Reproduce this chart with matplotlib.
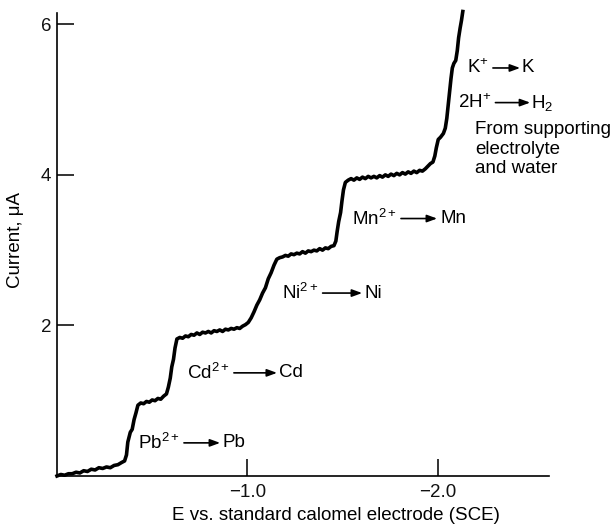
import matplotlib
matplotlib.use("Agg")
import matplotlib.pyplot as plt

plt.rcParams['font.family'] = ['Liberation Sans', 'DejaVu Sans']
plt.rcParams['mathtext.fontset'] = 'custom'
plt.rcParams['mathtext.rm'] = 'Liberation Sans'
plt.rcParams['mathtext.it'] = 'Liberation Sans:italic'

# polarogram: potential (V vs SCE) and current (uA)
potential = [
    0.000, -0.02, -0.04, -0.06, -0.08, -0.10, -0.12, -0.14, -0.16, -0.18,
    -0.20, -0.22, -0.24, -0.26, -0.28, -0.30, -0.32, -0.34, -0.355, -0.365,
    -0.372, -0.385, -0.395, -0.405, -0.415, -0.425, -0.44, -0.455, -0.47, -0.485,
    -0.50, -0.515, -0.53, -0.545, -0.56, -0.575, -0.585, -0.595, -0.603, -0.612,
    -0.62, -0.63, -0.645, -0.66, -0.675, -0.69, -0.705, -0.72, -0.735, -0.75,
    -0.765, -0.78, -0.795, -0.81, -0.825, -0.84, -0.855, -0.87, -0.885, -0.90,
    -0.915, -0.93, -0.945, -0.96, -0.975, -0.99, -1.005, -1.02, -1.035, -1.05,
    -1.065, -1.08, -1.095, -1.11, -1.125, -1.14, -1.155, -1.17, -1.185, -1.20,
    -1.215, -1.23, -1.245, -1.26, -1.275, -1.29, -1.305, -1.32, -1.335, -1.35,
    -1.365, -1.38, -1.395, -1.41, -1.425, -1.44, -1.455, -1.465, -1.472, -1.48,
    -1.49, -1.497, -1.505, -1.515, -1.53, -1.545, -1.56, -1.575, -1.59, -1.605,
    -1.62, -1.635, -1.65, -1.665, -1.68, -1.695, -1.71, -1.725, -1.74, -1.755,
    -1.77, -1.785, -1.80, -1.815, -1.83, -1.845, -1.86, -1.875, -1.89, -1.905,
    -1.92, -1.935, -1.95, -1.962, -1.975, -1.985, -1.993, -2.003, -2.015, -2.03,
    -2.04, -2.048, -2.055, -2.062, -2.07, -2.077, -2.085, -2.095, -2.103, -2.11,
    -2.118, -2.125, -2.132,
]
current = [
    0.00, 0.02, 0.01, 0.03, 0.03, 0.05, 0.04, 0.07, 0.06, 0.09,
    0.08, 0.11, 0.10, 0.12, 0.11, 0.14, 0.15, 0.18, 0.20, 0.28,
    0.45, 0.58, 0.62, 0.75, 0.84, 0.94, 0.97, 0.96, 0.99, 0.98,
    1.01, 1.00, 1.03, 1.02, 1.06, 1.09, 1.18, 1.30, 1.45, 1.55,
    1.70, 1.82, 1.84, 1.83, 1.86, 1.85, 1.88, 1.87, 1.90, 1.88,
    1.91, 1.90, 1.92, 1.90, 1.93, 1.92, 1.94, 1.92, 1.95, 1.94,
    1.96, 1.95, 1.97, 1.96, 1.99, 2.01, 2.04, 2.10, 2.18, 2.27,
    2.34, 2.43, 2.50, 2.62, 2.70, 2.80, 2.88, 2.90, 2.91, 2.93,
    2.92, 2.95, 2.94, 2.96, 2.95, 2.98, 2.96, 2.99, 2.98, 3.00,
    2.99, 3.02, 3.00, 3.03, 3.02, 3.05, 3.06, 3.12, 3.25, 3.38,
    3.50, 3.65, 3.80, 3.90, 3.93, 3.95, 3.93, 3.96, 3.94, 3.97,
    3.95, 3.98, 3.96, 3.98, 3.96, 3.99, 3.97, 4.00, 3.98, 4.01,
    3.99, 4.02, 4.00, 4.03, 4.01, 4.04, 4.02, 4.05, 4.03, 4.06,
    4.05, 4.08, 4.12, 4.15, 4.17, 4.25, 4.36, 4.47, 4.50, 4.55,
    4.62, 4.75, 4.92, 5.10, 5.28, 5.42, 5.48, 5.52, 5.65, 5.82,
    5.95, 6.05, 6.17,
]

x_ticks = [-1.0, -2.0]
x_ticklabels = ["\u22121.0", "\u22122.0"]
y_ticks = [2, 4, 6]

FS = 13.5

fig = plt.figure(figsize=(6.15, 5.29), dpi=100)
ax = fig.add_axes([0.0927, 0.1002, 0.80, 0.8752])

ax.plot(potential, current, color='black', linewidth=2.6, clip_on=False,
        solid_joinstyle='round')

ax.set_xlim(0, -2.585)
ax.set_ylim(0, 6.15)
ax.set_xticks(x_ticks)
ax.set_xticklabels(x_ticklabels)
ax.set_yticks(y_ticks)
ax.tick_params(axis='both', direction='in', length=12, width=1.2,
               labelsize=FS, colors='#111111')
ax.tick_params(axis='x', pad=6)
ax.tick_params(axis='y', pad=4)
for side in ['top', 'right']:
    ax.spines[side].set_visible(False)
for side in ['left', 'bottom']:
    ax.spines[side].set_linewidth(1.2)

ax.set_xlabel("E vs. standard calomel electrode (SCE)", fontsize=FS)
ax.set_ylabel("Current, \u03bcA", fontsize=FS)
ax.xaxis.set_label_coords(0.567, -0.068)
ax.yaxis.set_label_coords(-0.067, 0.51)


def reaction(x_left, x_a1, x_right, y, left, right, gap=3):
    t = ax.text(x_left, y, left, fontsize=FS, ha='left', va='center')
    # arrow starts just after the left text and ends at x_a1
    ax.annotate('', xy=(x_a1, y), xycoords='data',
                xytext=(1, 0.5), textcoords=t,
                arrowprops=dict(arrowstyle='-|>,head_length=0.6,head_width=0.22',
                                color='black', lw=1.2, shrinkA=gap, shrinkB=0))
    ax.text(x_right, y, right, fontsize=FS, ha='left', va='center')


reaction(-0.426, -0.857, -0.872, 0.44, r"Pb$^{2+}$", "Pb")
reaction(-0.683, -1.156, -1.165, 1.37, r"Cd$^{2+}$", "Cd")
reaction(-1.182, -1.603, -1.618, 2.43, r"Ni$^{2+}$", "Ni")
reaction(-1.550, -1.997, -2.013, 3.42, r"Mn$^{2+}$", "Mn")
reaction(-2.154, -2.433, -2.443, 5.42, r"K$^{+}$", "K")
reaction(-2.107, -2.486, -2.490, 4.96, r"2H$^{+}$", r"H$_{2}$")

ax.text(-2.197, 4.34, "From supporting\nelectrolyte\nand water", fontsize=FS,
        ha='left', va='center', linespacing=1.2)

fig.savefig("out.png", dpi=100)
